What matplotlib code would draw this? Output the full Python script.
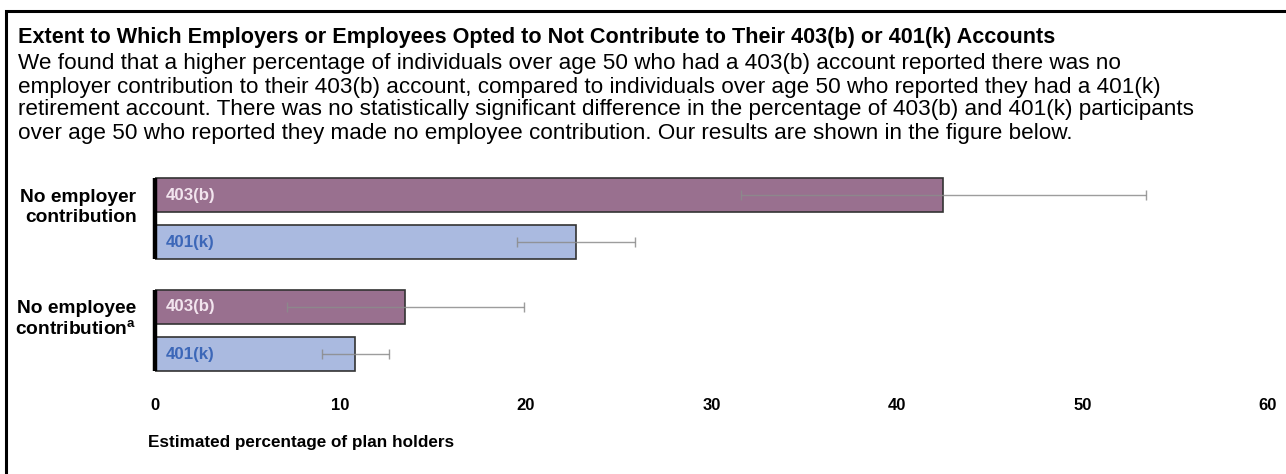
import matplotlib.pyplot as plt
from matplotlib.patches import Rectangle

plt.rcParams['font.family'] = ['Liberation Sans', 'DejaVu Sans']
plt.rcParams['mathtext.fontset'] = 'custom'
plt.rcParams['mathtext.bf'] = 'Liberation Sans:bold'
plt.rcParams['mathtext.rm'] = 'Liberation Sans'

title = 'Extent to Which Employers or Employees Opted to Not Contribute to Their 403(b) or 401(k) Accounts'
body_lines = [
    'We found that a higher percentage of individuals over age 50 who had a 403(b) account reported there was no',
    'employer contribution to their 403(b) account, compared to individuals over age 50 who reported they had a 401(k)',
    'retirement account. There was no statistically significant difference in the percentage of 403(b) and 401(k) participants',
    'over age 50 who reported they made no employee contribution. Our results are shown in the figure below.',
]

groups = ['No employer\ncontribution', 'No employee\ncontribution$^{\\mathbf{a}}$']
plans = ['403(b)', '401(k)']
# estimate, lower bound, upper bound (percent), per group
est_403b = [42.5, 13.5]
low_403b = [31.6, 7.1]
high_403b = [53.4, 19.9]
est_401k = [22.7, 10.8]
low_401k = [19.5, 9.0]
high_401k = [25.9, 12.6]
xticks = [0, 10, 20, 30, 40, 50, 60]
xlabel = 'Estimated percentage of plan holders'

bar_colors = ['#99708f', '#aabae0']
label_colors = ['#f2e4ee', '#3c67b8']

W, H = 1286, 474
fig = plt.figure(figsize=(W / 100, H / 100), dpi=100)

# outer frame (runs off the right and bottom edges)
fig.patches.append(Rectangle((6 / W, -0.1), 1.2, 1 - 11 / H + 0.1, transform=fig.transFigure,
                             fill=False, edgecolor='black', linewidth=2.2, clip_on=False))

fig.text(18 / W, 1 - 38 / H, title, fontsize=15.6, fontweight='bold', va='center', ha='left')
for i, line in enumerate(body_lines):
    fig.text(18 / W, 1 - (64 + 23 * i) / H, line, fontsize=16.2, va='center', ha='left')

ax_top, ax_bot = 170, 380
ax = fig.add_axes([155 / W, 1 - ax_bot / H, 1113 / W, (ax_bot - ax_top) / H])

step = 47.0
bar_h = 34 / step
group_gap = 112 / step
ests = [est_403b, est_401k]
lows = [low_403b, low_401k]
highs = [high_403b, high_401k]

for g in range(len(groups)):
    y0 = g * group_gap
    for p in range(len(plans)):
        y = y0 + p
        v = ests[p][g]
        ax.barh(y, v, height=bar_h, color=bar_colors[p], edgecolor='#333333', linewidth=1.2)
        ax.errorbar(v, y, xerr=[[v - lows[p][g]], [highs[p][g] - v]], fmt='none',
                    ecolor='#8c8c8c', elinewidth=1.0, capsize=3.5, capthick=1.0, alpha=0.85)
        ax.text(0.6, y, plans[p], color=label_colors[p], fontsize=12.2, fontweight='bold',
                va='center', ha='left')
    # heavy baseline for each pair
    ax.plot([0, 0], [y0 - bar_h / 2, y0 + 1 + bar_h / 2], color='black', linewidth=3.2,
            solid_capstyle='butt', clip_on=False)
    ax.text(-1.0, y0 + 0.5 - 0.24, groups[g], fontsize=13.8, fontweight='bold',
            ha='right', va='center', transform=ax.transData, linespacing=1.25)

ax.set_xlim(0, 60)
ax.set_ylim((ax_bot - 195) / step, (ax_top - 195) / step)
ax.set_xticks(xticks)
ax.set_xticklabels([str(t) for t in xticks], fontsize=12, fontweight='bold')
ax.tick_params(axis='x', length=0, pad=13)
ax.set_yticks([])
for s in ax.spines.values():
    s.set_visible(False)

fig.text(148 / W, 1 - 443 / H, xlabel, fontsize=12.3, fontweight='bold', ha='left', va='center')

fig.savefig('out.png', dpi=100)
